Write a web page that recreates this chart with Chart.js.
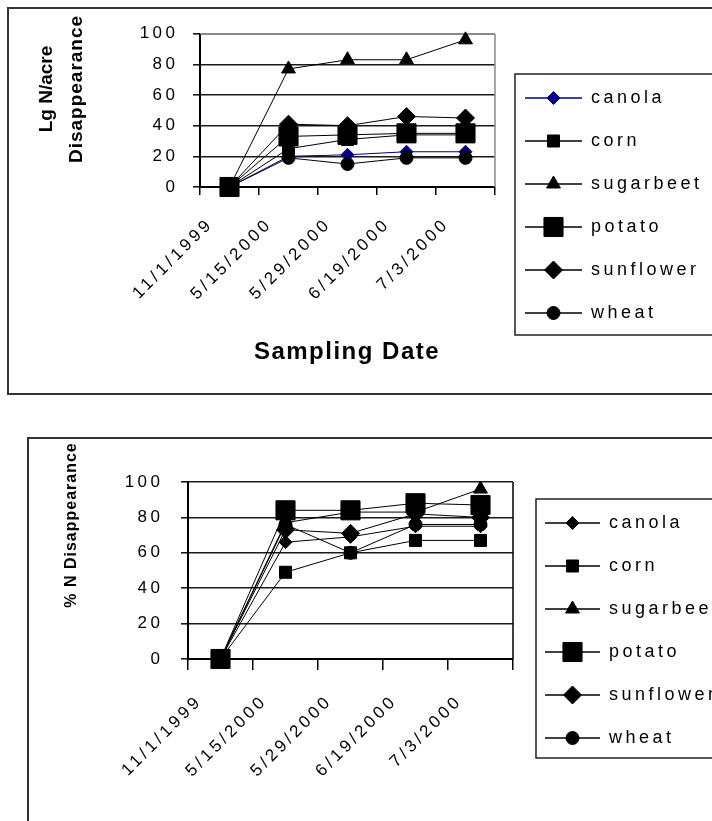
<!DOCTYPE html>
<html>
<head>
<meta charset="utf-8">
<script src="https://cdn.jsdelivr.net/npm/chart.js@4.4.1/dist/chart.umd.min.js"></script>
<style>
  html, body { margin:0; padding:0; background:#fff; width:712px; height:821px; overflow:hidden; }
  .box { position:absolute; border:2px solid #333; background:#fff; }
  #box1 { left:7px; top:7px; width:800px; height:384px; }
  #box2 { left:27px; top:437px; width:800px; height:400px; }
</style>
</head>
<body>
<div class="box" id="box1"><canvas id="lgChart"></canvas></div>
<div class="box" id="box2"><canvas id="pctChart"></canvas></div>
<script>
// sampling dates and crops
const dates = ['11/1/1999', '5/15/2000', '5/29/2000', '6/19/2000', '7/3/2000'];
const crops = ['canola', 'corn', 'sugarbeet', 'potato', 'sunflower', 'wheat'];
const yTicks = [0, 20, 40, 60, 80, 100];

// Lg N/acre disappearance
const lgCanola    = [0, 20, 21, 23, 23];
const lgCorn      = [0, 25, 31, 34, 34];
const lgSugarbeet = [0, 77, 83, 83, 96];
const lgPotato    = [0, 33, 34, 35, 35];
const lgSunflower = [0, 41, 40, 46, 45];
const lgWheat     = [0, 19, 15, 19, 19];

// % N disappearance
const pctCanola    = [0, 66, 69, 75, 75];
const pctCorn      = [0, 49, 60, 67, 67];
const pctSugarbeet = [0, 77, 83, 83, 96];
const pctPotato    = [0, 84, 84, 88, 87];
const pctSunflower = [0, 73, 71, 82, 80];
const pctWheat     = [0, 76, 60, 76, 76];

// marker look per crop (excel style)
const markers = {
  canola:    { style:'rectRot',  r:6.5 },
  corn:      { style:'rect',     r:8.5 },
  sugarbeet: { style:'triangle', r:8 },
  potato:    { style:'rect',     r:13.5 },
  sunflower: { style:'rectRot',  r:9 },
  wheat:     { style:'circle',   r:6.5 }
};

Chart.defaults.font.family = "'Liberation Sans', Arial, sans-serif";
Chart.defaults.font.size = 17;
Chart.defaults.color = '#000';
Chart.defaults.animation = false;

const ICON_W = 62;
function legendIcon(crop, color, lineStart) {
  const c = document.createElement('canvas');
  c.width = ICON_W; c.height = 28;
  const g = c.getContext('2d');
  g.strokeStyle = color; g.fillStyle = color; g.lineWidth = 1.6;
  g.beginPath(); g.moveTo(lineStart, 14); g.lineTo(ICON_W, 14); g.stroke();
  const m = markers[crop];
  g.lineWidth = 1;
  Chart.helpers.drawPoint(g, { pointStyle:m.style, radius:m.r, rotation:0, borderWidth:1 }, (lineStart + ICON_W) / 2, 14);
  return c;
}

// wide letter spacing like the old bitmap fonts
const spacing = {
  id: 'spacing',
  beforeDraw(chart) { chart.ctx.letterSpacing = '3.5px'; }
};

// legend keeps a fixed width so the plot area lands where the original is
const legendWidth = {
  id: 'legendWidth',
  beforeLayout(chart, args, o) {
    const lg = chart.legend;
    if (lg && !lg._fixedW) {
      const fit = lg.fit.bind(lg);
      lg.fit = function () { fit(); this.width = o.width; };
      lg._fixedW = true;
    }
  }
};

const plotFrame = {
  id: 'plotFrame',
  beforeDatasetsDraw(chart, args, o) {
    const { ctx, chartArea:a } = chart;
    ctx.save();
    ctx.strokeStyle = o.color; ctx.lineWidth = 1.5;
    ctx.beginPath();
    if (o.top) { ctx.moveTo(a.left, a.top); ctx.lineTo(a.right, a.top); }
    ctx.moveTo(a.right, a.top); ctx.lineTo(a.right, a.bottom);
    ctx.stroke();
    ctx.restore();
  }
};

const legendFrame = {
  id: 'legendFrame',
  afterDraw(chart, args, o) {
    const hb = chart.legend && chart.legend.legendHitBoxes;
    if (!hb || !hb.length) return;
    const first = hb[0], last = hb[hb.length - 1];
    const half = first.height / 2;
    const x = first.left - o.left, y = first.top + half - o.top;
    const y2 = last.top + half + o.bottom;
    const ctx = chart.ctx;
    ctx.save();
    ctx.strokeStyle = '#222'; ctx.lineWidth = 1.5;
    ctx.strokeRect(x, y, chart.width + 20 - x, y2 - y);
    ctx.restore();
  }
};

const axisTitles = {
  id: 'axisTitles',
  afterDraw(chart, args, o) {
    const ctx = chart.ctx;
    ctx.save();
    ctx.fillStyle = '#000';
    ctx.textAlign = 'center';
    ctx.textBaseline = 'middle';
    (o.items || []).forEach(t => {
      ctx.save();
      ctx.font = t.font;
      ctx.letterSpacing = t.spacing + 'px';
      ctx.translate(t.x, t.y);
      if (t.rotate) ctx.rotate(-Math.PI / 2);
      ctx.fillText(t.text, 0, 0);
      ctx.restore();
    });
    ctx.restore();
  }
};

function makeDatasets(series, canolaColor) {
  return crops.map((crop, i) => {
    const col = (i === 0) ? canolaColor : '#000';
    const m = markers[crop];
    return {
      label: crop, data: series[i],
      borderColor: col, backgroundColor: col,
      borderWidth: 1, tension: 0,
      pointStyle: m.style, pointRadius: m.r, pointHoverRadius: m.r,
      pointBackgroundColor: col, pointBorderColor: col, pointBorderWidth: 1,
      clip: false,
      order: crops.length - i
    };
  });
}

function makeChart(id, series, cfg) {
  const icons = crops.map((c, i) => legendIcon(c, i === 0 ? cfg.canolaColor : '#000', cfg.iconStart));
  return new Chart(document.getElementById(id), {
    type: 'line',
    data: { labels: dates, datasets: makeDatasets(series, cfg.canolaColor) },
    plugins: [legendWidth, spacing, plotFrame, legendFrame, axisTitles],
    options: {
      responsive: true, maintainAspectRatio: false,
      events: [],
      layout: { padding: cfg.pad },
      scales: {
        x: {
          type: 'category', offset: true,
          grid: { offset: true, drawOnChartArea: false, drawTicks: true, tickLength: cfg.xTick, color: '#000', lineWidth: 1.5 },
          border: { display: true, color: '#000', width: 2 },
          ticks: { autoSkip: false, minRotation: 45, maxRotation: 45, padding: cfg.xPad, labelOffset: cfg.xOffset, font: { size: 17 } },
          afterFit: s => { s.height = cfg.xHeight; }
        },
        y: {
          min: 0, max: 100,
          afterBuildTicks: s => { s.ticks = yTicks.map(v => ({ value: v })); },
          grid: { color: '#1a1a1a', lineWidth: 1.6, tickLength: 7, drawTicks: true },
          border: { display: true, color: '#000', width: 2 },
          ticks: { padding: cfg.yPad, font: { size: 17 } },
          afterFit: s => { s.width = cfg.yWidth; }
        }
      },
      plugins: {
        tooltip: { enabled: false },
        legend: {
          position: 'right', align: 'center',
          labels: {
            usePointStyle: true, pointStyleWidth: ICON_W, padding: 25,
            font: { size: 18 }, color: '#000',
            sort: (a, b) => a.datasetIndex - b.datasetIndex,
            generateLabels: chart => Chart.defaults.plugins.legend.labels.generateLabels(chart)
              .map(it => Object.assign(it, { pointStyle: icons[it.datasetIndex], lineWidth: 0 }))
          }
        },
        legendWidth: { width: 260 },
        plotFrame: { color: cfg.frameColor, top: cfg.frameTop },
        legendFrame: cfg.legendBox,
        axisTitles: { items: cfg.titles }
      }
    }
  });
}

makeChart('lgChart',
  [lgCanola, lgCorn, lgSugarbeet, lgPotato, lgSunflower, lgWheat],
  {
    canolaColor: '#000080', iconStart: 5,
    pad: { left: 0, top: 22, right: 54, bottom: 13 },
    xHeight: 193, yWidth: 191, xTick: 8, xPad: 19, xOffset: -19, yPad: 14.5,
    frameColor: '#8a8a8a', frameTop: true,
    legendBox: { left: 5, top: 24, bottom: 22 },
    titles: [
      { text: 'Lg N/acre', x: 38, y: 80, rotate: true, font: "bold 19px 'Liberation Sans', Arial, sans-serif", spacing: 0 },
      { text: 'Disappearance', x: 68, y: 80, rotate: true, font: "bold 19px 'Liberation Sans', Arial, sans-serif", spacing: 1 },
      { text: 'Sampling Date', x: 338, y: 343, rotate: false, font: "bold 24px 'Liberation Sans', Arial, sans-serif", spacing: 1.5 }
    ]
  });

makeChart('pctChart',
  [pctCanola, pctCorn, pctSugarbeet, pctPotato, pctSunflower, pctWheat],
  {
    canolaColor: '#000', iconStart: 7,
    pad: { left: 0, top: 43, right: 56, bottom: 60 },
    xHeight: 120, yWidth: 159, xTick: 11, xPad: 21, xOffset: -21, yPad: 17.5,
    frameColor: '#000', frameTop: false,
    legendBox: { left: 2, top: 24, bottom: 20 },
    titles: [
      { text: '% N Disappearance', x: 43, y: 86, rotate: true, font: "bold 16px 'Liberation Sans', Arial, sans-serif", spacing: 1 }
    ]
  });
</script>
</body>
</html>
